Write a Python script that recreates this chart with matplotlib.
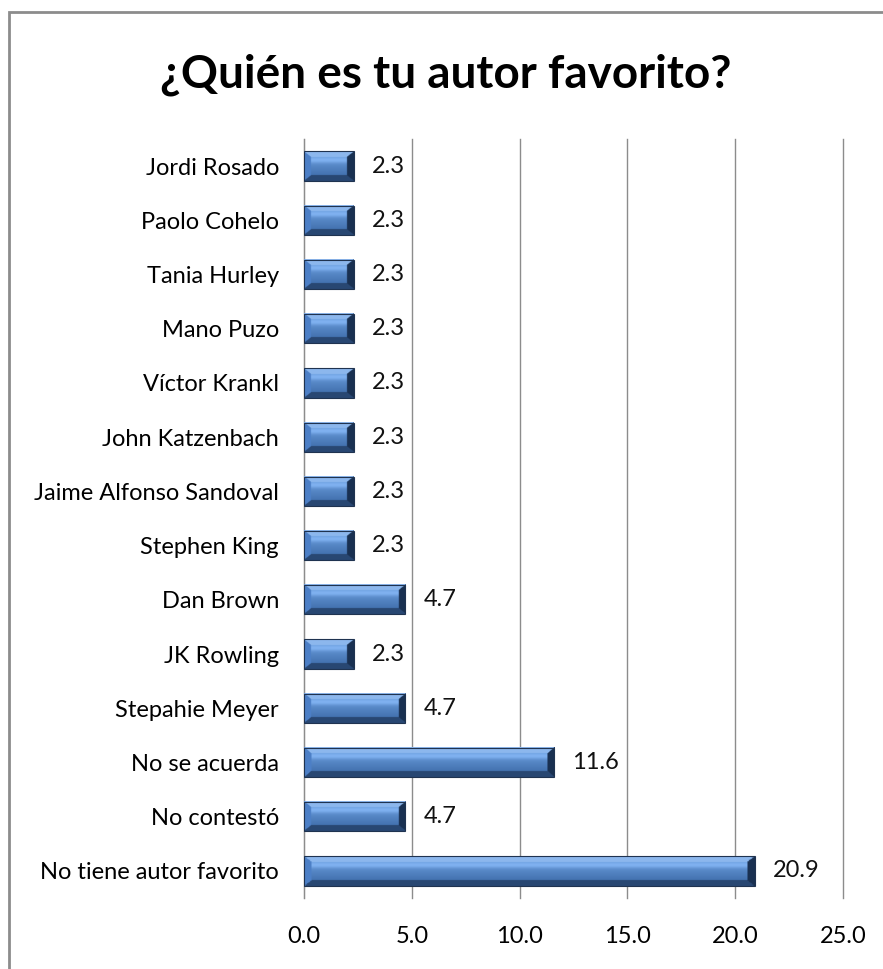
import matplotlib.pyplot as plt
import matplotlib.patches as mp
import numpy as np

authors = ["Jordi Rosado", "Paolo Cohelo", "Tania Hurley", "Mano Puzo", "Víctor Krankl",
           "John Katzenbach", "Jaime Alfonso Sandoval", "Stephen King", "Dan Brown",
           "JK Rowling", "Stepahie Meyer", "No se acuerda", "No contestó",
           "No tiene autor favorito"]
pct = [2.3, 2.3, 2.3, 2.3, 2.3, 2.3, 2.3, 2.3, 4.7, 2.3, 4.7, 11.6, 4.7, 20.9]
xticks = [0, 5, 10, 15, 20, 25]

plt.rcParams["font.family"] = ["Lato", "DejaVu Sans"]

W, H = 883, 969
fig = plt.figure(figsize=(W / 100, H / 100), dpi=100)
fig.patch.set_facecolor("white")

# outer frame (right/bottom edge run off the picture)
fig.patches.append(mp.Rectangle((9 / W, -0.1), 1.2, 1 - 12 / H + 0.1,
                                transform=fig.transFigure, fill=False,
                                edgecolor="#8c8c8c", linewidth=2))

ax = fig.add_axes([304 / W, 1 - 898 / H, (843 - 304) / W, (898 - 139) / H])
n = len(authors)
ypos = np.arange(n)[::-1]
bh = 0.54
ax.set_xlim(0, 25)
ax.set_ylim(-0.5, n - 0.5)


def bevel_image(w, h, bx, by, nx=300, ny=40):
    xs = np.linspace(0, w, nx)
    ys = np.linspace(0, h, ny)  # 0 = top
    X, Y = np.meshgrid(xs, ys)
    d_left = X / bx
    d_right = (w - X) / bx
    d_top = Y / by
    d_bot = (h - Y) / by
    t = Y / h
    base_top = np.array([0.45, 0.65, 0.90])
    base_bot = np.array([0.22, 0.40, 0.64])
    img = base_top[None, None, :] * (1 - t[..., None]) + base_bot[None, None, :] * t[..., None]
    # light streak just below the top bevel
    streak = np.exp(-((t - 0.30) / 0.10) ** 2)
    img = img + 0.12 * streak[..., None]
    stack = np.stack([d_left, d_right, d_top, d_bot])
    which = np.argmin(stack, axis=0)
    inb = stack.min(axis=0) < 1
    facet = {0: [0.30, 0.50, 0.78], 1: [0.10, 0.19, 0.32],
             2: [0.55, 0.72, 0.93], 3: [0.16, 0.28, 0.45]}
    for k, c in facet.items():
        m = inb & (which == k)
        img[m] = c
    return np.clip(img, 0, 1)


for y, v in zip(ypos, pct):
    img = bevel_image(v, bh, 0.32, 0.10)
    ax.imshow(img, extent=(0, v, y - bh / 2, y + bh / 2), aspect="auto",
              interpolation="bilinear", zorder=3)
    ax.add_patch(mp.Rectangle((0, y - bh / 2), v, bh, fill=False,
                              edgecolor="#1f3350", linewidth=0.8, zorder=4))
    ax.text(v + 0.85, y, f"{v:.1f}", va="center", ha="left", fontsize=17,
            color="#111111")

ax.set_xticks(xticks)
ax.set_xticklabels([f"{t:.1f}" for t in xticks], fontsize=17)
ax.set_yticks(ypos)
ax.set_yticklabels(authors, fontsize=17)
ax.grid(axis="x", color="#8c8c8c", linewidth=1, zorder=0)
for gl in ax.get_xgridlines():
    gl.set_clip_on(False)
ax.set_axisbelow(True)
for s in ["top", "right", "bottom"]:
    ax.spines[s].set_visible(False)
ax.spines["left"].set_color("#8c8c8c")
ax.tick_params(axis="y", length=0, pad=18)
ax.tick_params(axis="x", length=0, pad=20)

fig.text(0.505, 1 - 75 / H, "¿Quién es tu autor favorito?", ha="center",
         va="center", fontsize=33, fontweight="bold")

fig.savefig("out.png", dpi=100)
